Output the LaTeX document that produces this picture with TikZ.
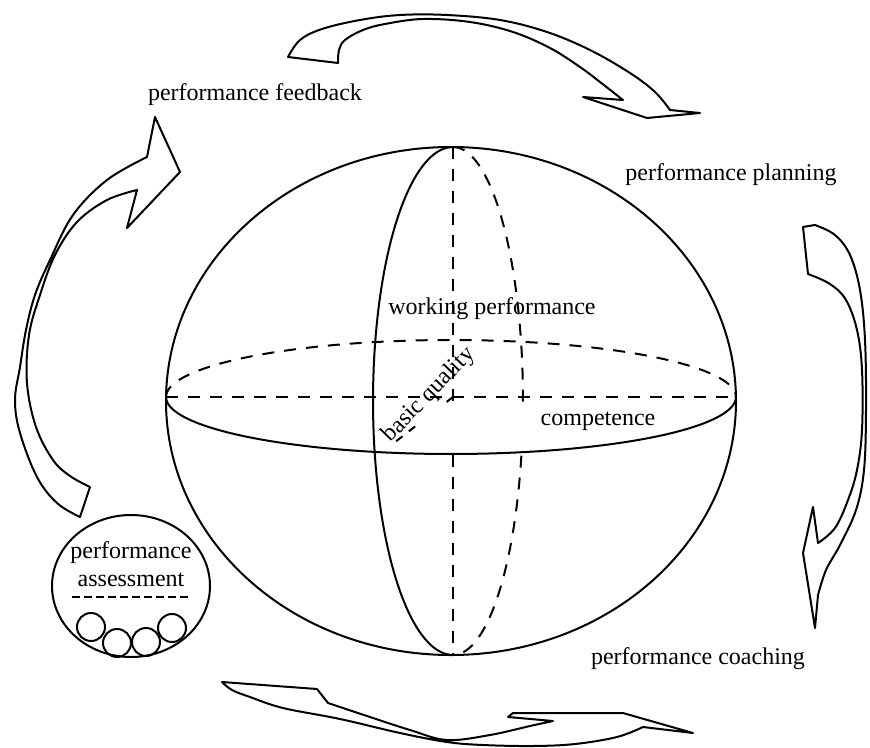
\documentclass[tikz,border=0pt]{standalone}
\usepackage{fontspec}
\setmainfont{Liberation Serif}
\begin{document}
\begin{tikzpicture}[x=1pt,y=-1pt,line width=2pt,line join=round,
  lbl/.style={font=\fontsize{24}{26}\selectfont,inner sep=0pt},
  dsh/.style={line width=2pt,dash pattern=on 12pt off 10pt},
  blockarrow/.style={line width=2pt,fill=white}]
\useasboundingbox (0,0) rectangle (870,747);

% ---------- sphere ----------
\draw (451,401) ellipse [x radius=285, y radius=254];
% equator
\draw plot[domain=0:180,samples=80] ({451+285*cos(\x)},{397+57*sin(\x)});
\draw[dsh] plot[domain=180:360,samples=80] ({451+285*cos(\x)},{397+57*sin(\x)});
\draw[dsh] (166,397) -- (737,397);
% meridian
\draw plot[domain=90:270,samples=80] ({453+80*cos(\x)},{401+254*sin(\x)});
\draw[dsh] plot[domain=-90:90,samples=80] ({453+70*cos(\x)},{401+254*sin(\x)});
\draw[dsh] (453,147) -- (453,655);
% depth axis
\draw[dsh,dash pattern=on 8pt off 8pt] (453,397) -- (390,446);
% white patch seen in the reference
\fill[white] (420,404) rectangle (528,446);

% ---------- labels ----------
\node[lbl] (wp) at (492,309) {working performance};
\node[lbl,rotate=46] (bq) at (429,395) {basic quality};
\node[lbl,fill=white,inner sep=3pt] (comp) at (598,421) {competence};
\node[lbl] (fb) at (255,95) {performance feedback};
\node[lbl] (pl) at (731,175) {performance planning};
\node[lbl] (co) at (698,659) {performance coaching};

% ---------- assessment circle ----------
\draw (131,586) ellipse [x radius=79, y radius=71];
\node[lbl] (pa1) at (131,553) {performance};
\node[lbl] (pa2) at (131,580) {assessment};
\draw[line width=1.2pt,dash pattern=on 8pt off 4pt] (72,597) -- (190,597);
\draw (91,627) circle [radius=14];
\draw (117,643) circle [radius=14];
\draw (146,642) circle [radius=14];
\draw (172,628) circle [radius=14];

% ---------- top arrow ----------
\draw[blockarrow] (288,57)
  -- plot[smooth,tension=0.6] coordinates {(288,57) (300,40) (322,29) (360,20) (400,15) (447,15) (500,20) (547,32) (590,50) (630,73) (655,92) (670,110)}
  -- (700,113) -- (647,118) -- (583,97) -- (623,100)
  -- plot[smooth,tension=0.6] coordinates {(623,100) (600,82) (580,67) (550,48) (513,32) (470,22) (423,19) (385,24) (363,30) (345,40) (339,50) (338,63)}
  -- cycle;

% ---------- right arrow ----------
\draw[blockarrow] (803,227) -- (815,225)
  -- plot[smooth,tension=0.6] coordinates {(815,225) (835,235) (850,255) (860,290) (865,340) (866,410) (864,470) (856,510) (840,545) (826,570) (818,595)}
  -- (815,628) -- (803,553) -- (813,507) -- (818,543)
  -- plot[smooth,tension=0.6] coordinates {(818,543) (835,528) (848,500) (857,470) (862,430) (862,370) (857,330) (846,300) (830,284) (808,274)}
  -- cycle;

% ---------- bottom arrow ----------
\draw[blockarrow] (222,682) -- (317,689) -- (328,703)
  -- plot[smooth,tension=0.6] coordinates {(328,703) (370,717) (410,730) (447,740) (490,735) (530,726) (553,721)}
  -- (508,717) -- (513,713) -- (623,713) -- (693,733) -- (643,727)
  -- plot[smooth,tension=0.6] coordinates {(643,727) (617,737) (575,744) (533,746) (483,745) (447,742) (400,733) (340,719) (283,708) (250,697) (232,690) (222,682)}
  -- cycle;

% ---------- left arrow ----------
\draw[blockarrow] (90,487) -- (80,517)
  -- plot[smooth,tension=0.6] coordinates {(80,517) (57,503) (37,477) (20,433) (15,400) (20,367) (26,330) (35,295) (50,260) (73,215) (107,180) (147,157)}
  -- (155,117) -- (180,172) -- (127,228) -- (137,190)
  -- plot[smooth,tension=0.6] coordinates {(137,190) (107,200) (77,222) (55,255) (40,295) (29,335) (27,383) (36,427) (53,460) (70,476) (90,487)}
  -- cycle;
\end{tikzpicture}
\end{document}
